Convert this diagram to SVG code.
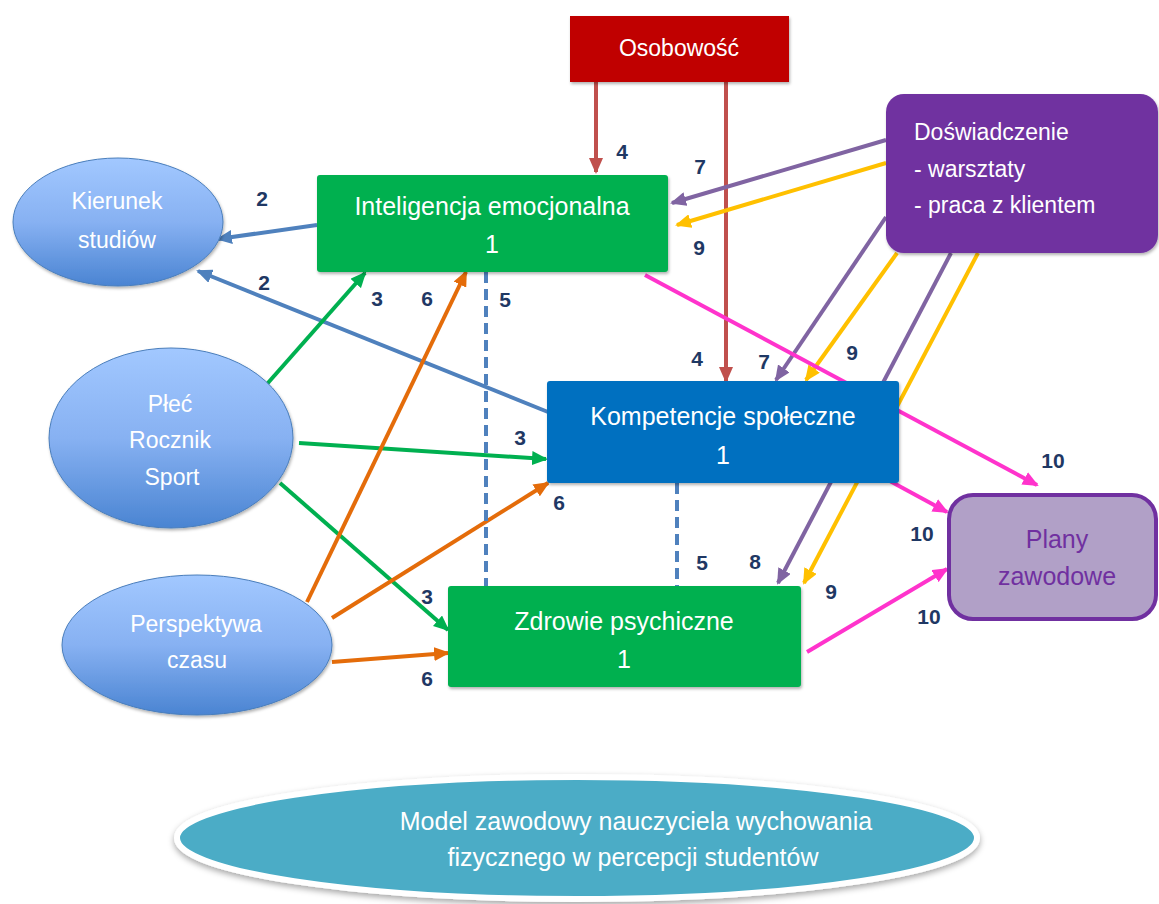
<svg xmlns="http://www.w3.org/2000/svg" width="1159" height="904" viewBox="0 0 1159 904">
<style>
.lbl{font-family:"Liberation Sans",Arial,sans-serif;font-size:25px;fill:#fff;text-anchor:middle}
.el{font-family:"Liberation Sans",Arial,sans-serif;font-size:23px;fill:#fff;text-anchor:middle}
.num{font-family:"Liberation Sans",Arial,sans-serif;font-size:21px;font-weight:bold;fill:#1F3864;text-anchor:middle}
.c{fill:none;stroke-width:4}
.red{stroke:#C0504D}
.pur{stroke:#8064A2}
.yel{stroke:#FFC000}
.pnk{stroke:#FF33CC}
.blu{stroke:#4F81BD}
.grn{stroke:#00B050}
.org{stroke:#E46C0A}
.dash{stroke:#4F81BD;stroke-dasharray:11 6}
.ell{fill:url(#eg);stroke:#4A7EBB;stroke-width:1}
</style>
<defs>
<linearGradient id="eg" x1="0" y1="0" x2="0" y2="1">
<stop offset="0" stop-color="#A2C8FF"/>
<stop offset="0.5" stop-color="#87B1F2"/>
<stop offset="1" stop-color="#4A84D2"/>
</linearGradient>
<filter id="sh" x="-10%" y="-10%" width="120%" height="130%">
<feDropShadow dx="1" dy="2" stdDeviation="1.5" flood-color="#000" flood-opacity="0.3"/>
</filter>
<filter id="sh2" x="-10%" y="-20%" width="120%" height="150%">
<feDropShadow dx="0" dy="3" stdDeviation="3" flood-color="#000" flood-opacity="0.35"/>
</filter>
<marker id="mRed" markerUnits="userSpaceOnUse" markerWidth="16" markerHeight="14" refX="14" refY="7" orient="auto"><path d="M0,0 L16,7 L0,14 z" fill="#C0504D"/></marker>
<marker id="mPur" markerUnits="userSpaceOnUse" markerWidth="16" markerHeight="14" refX="14" refY="7" orient="auto"><path d="M0,0 L16,7 L0,14 z" fill="#8064A2"/></marker>
<marker id="mYel" markerUnits="userSpaceOnUse" markerWidth="16" markerHeight="14" refX="14" refY="7" orient="auto"><path d="M0,0 L16,7 L0,14 z" fill="#FFC000"/></marker>
<marker id="mPnk" markerUnits="userSpaceOnUse" markerWidth="16" markerHeight="14" refX="14" refY="7" orient="auto"><path d="M0,0 L16,7 L0,14 z" fill="#FF33CC"/></marker>
<marker id="mBlu" markerUnits="userSpaceOnUse" markerWidth="16" markerHeight="14" refX="14" refY="7" orient="auto"><path d="M0,0 L16,7 L0,14 z" fill="#4F81BD"/></marker>
<marker id="mGrn" markerUnits="userSpaceOnUse" markerWidth="16" markerHeight="14" refX="14" refY="7" orient="auto"><path d="M0,0 L16,7 L0,14 z" fill="#00B050"/></marker>
<marker id="mOrg" markerUnits="userSpaceOnUse" markerWidth="16" markerHeight="14" refX="14" refY="7" orient="auto"><path d="M0,0 L16,7 L0,14 z" fill="#E46C0A"/></marker>
</defs>
<rect width="1159" height="904" fill="#fff"/>

<g id="connectors">
<line class="c red" x1="596" y1="82" x2="596" y2="172" marker-end="url(#mRed)"/>
<line class="c red" x1="726" y1="78" x2="726" y2="381" marker-end="url(#mRed)"/>
<line class="c pur" x1="886" y1="140" x2="672" y2="203" marker-end="url(#mPur)"/>
<line class="c yel" x1="886" y1="163" x2="677" y2="225" marker-end="url(#mYel)"/>
<line class="c pur" x1="886" y1="217" x2="776" y2="380" marker-end="url(#mPur)"/>
<line class="c yel" x1="897" y1="253" x2="806" y2="380" marker-end="url(#mYel)"/>
<line class="c pur" x1="951" y1="253" x2="778" y2="583" marker-end="url(#mPur)"/>
<line class="c yel" x1="978" y1="253" x2="804" y2="583" marker-end="url(#mYel)"/>
<line class="c pnk" x1="645" y1="275" x2="1037" y2="485" marker-end="url(#mPnk)"/>
<line class="c pnk" x1="888" y1="480" x2="947" y2="512" marker-end="url(#mPnk)"/>
<line class="c pnk" x1="807" y1="652" x2="947" y2="569" marker-end="url(#mPnk)"/>
<line class="c blu" x1="317" y1="225" x2="218" y2="239" marker-end="url(#mBlu)"/>
<line class="c blu" x1="548" y1="412" x2="198" y2="271" marker-end="url(#mBlu)"/>
<line class="c grn" x1="267" y1="384" x2="365" y2="273" marker-end="url(#mGrn)"/>
<line class="c grn" x1="299" y1="443" x2="546" y2="459" marker-end="url(#mGrn)"/>
<line class="c grn" x1="280" y1="483" x2="448" y2="630" marker-end="url(#mGrn)"/>
<line class="c org" x1="307" y1="602" x2="466" y2="272" marker-end="url(#mOrg)"/>
<line class="c org" x1="332" y1="618" x2="548" y2="483" marker-end="url(#mOrg)"/>
<line class="c org" x1="332" y1="662" x2="448" y2="653" marker-end="url(#mOrg)"/>
<line class="c dash" x1="486" y1="272" x2="486" y2="586"/>
<line class="c dash" x1="677" y1="483" x2="677" y2="586"/>
</g>

<g id="labels">
<text class="num" x="262" y="206">2</text>
<text class="num" x="264" y="290">2</text>
<text class="num" x="622" y="159">4</text>
<text class="num" x="697" y="366">4</text>
<text class="num" x="700" y="174">7</text>
<text class="num" x="699" y="255">9</text>
<text class="num" x="764" y="369">7</text>
<text class="num" x="852" y="360">9</text>
<text class="num" x="377" y="306">3</text>
<text class="num" x="427" y="306">6</text>
<text class="num" x="505" y="307">5</text>
<text class="num" x="520" y="445">3</text>
<text class="num" x="559" y="510">6</text>
<text class="num" x="427" y="604">3</text>
<text class="num" x="427" y="686">6</text>
<text class="num" x="702" y="570">5</text>
<text class="num" x="755" y="569">8</text>
<text class="num" x="831" y="599">9</text>
<text class="num" x="1053" y="468">10</text>
<text class="num" x="922" y="541">10</text>
<text class="num" x="929" y="624">10</text>
</g>

<g id="osobowosc">
<rect x="570" y="16" width="219" height="66" fill="#C00000" filter="url(#sh)"/>
<text class="el" x="679" y="56">Osobowość</text>
</g>

<g id="inteligencja">
<rect x="317" y="175" width="351" height="97" rx="3" fill="#00B050" filter="url(#sh)"/>
<text class="lbl" x="492" y="215">Inteligencja emocjonalna</text>
<text class="lbl" x="492" y="253">1</text>
</g>

<g id="kompetencje">
<rect x="547" y="381" width="352" height="102" rx="3" fill="#0070C0" filter="url(#sh)"/>
<text class="lbl" x="723" y="425">Kompetencje społeczne</text>
<text class="lbl" x="723" y="464">1</text>
</g>

<g id="zdrowie">
<rect x="448" y="586" width="353" height="101" rx="3" fill="#00B050" filter="url(#sh)"/>
<text class="lbl" x="624" y="630">Zdrowie psychiczne</text>
<text class="lbl" x="624" y="668">1</text>
</g>

<g id="doswiadczenie">
<rect x="886" y="94" width="272" height="159" rx="18" fill="#7030A0" filter="url(#sh)"/>
<text class="el" x="914" y="140" style="text-anchor:start">Doświadczenie</text>
<text class="el" x="914" y="177" style="text-anchor:start">- warsztaty</text>
<text class="el" x="914" y="213" style="text-anchor:start">- praca z klientem</text>
</g>

<g id="plany">
<rect x="949" y="495" width="207" height="124" rx="24" fill="#B1A0C7" stroke="#7030A0" stroke-width="4"/>
<text class="el" x="1057" y="548" style="fill:#7030A0;font-size:25px">Plany</text>
<text class="el" x="1057" y="585" style="fill:#7030A0;font-size:25px">zawodowe</text>
</g>

<g id="kierunek">
<ellipse class="ell" cx="118" cy="222" rx="105" ry="64" filter="url(#sh)"/>
<text class="el" x="117" y="209">Kierunek</text>
<text class="el" x="117" y="248">studiów</text>
</g>

<g id="plec">
<ellipse class="ell" cx="171" cy="438" rx="122" ry="90" filter="url(#sh)"/>
<text class="el" x="170" y="412">Płeć</text>
<text class="el" x="170" y="448">Rocznik</text>
<text class="el" x="172" y="485">Sport</text>
</g>

<g id="perspektywa">
<ellipse class="ell" cx="197" cy="645" rx="135" ry="70" filter="url(#sh)"/>
<text class="el" x="196" y="632">Perspektywa</text>
<text class="el" x="197" y="668">czasu</text>
</g>

<g id="model">
<ellipse cx="577" cy="838" rx="400" ry="61" fill="#4BACC6" stroke="#fff" stroke-width="6" filter="url(#sh2)"/>
<text class="el" x="636" y="830" style="font-size:25px">Model zawodowy nauczyciela wychowania</text>
<text class="el" x="633" y="866" style="font-size:25px">fizycznego w percepcji studentów</text>
</g>
</svg>
